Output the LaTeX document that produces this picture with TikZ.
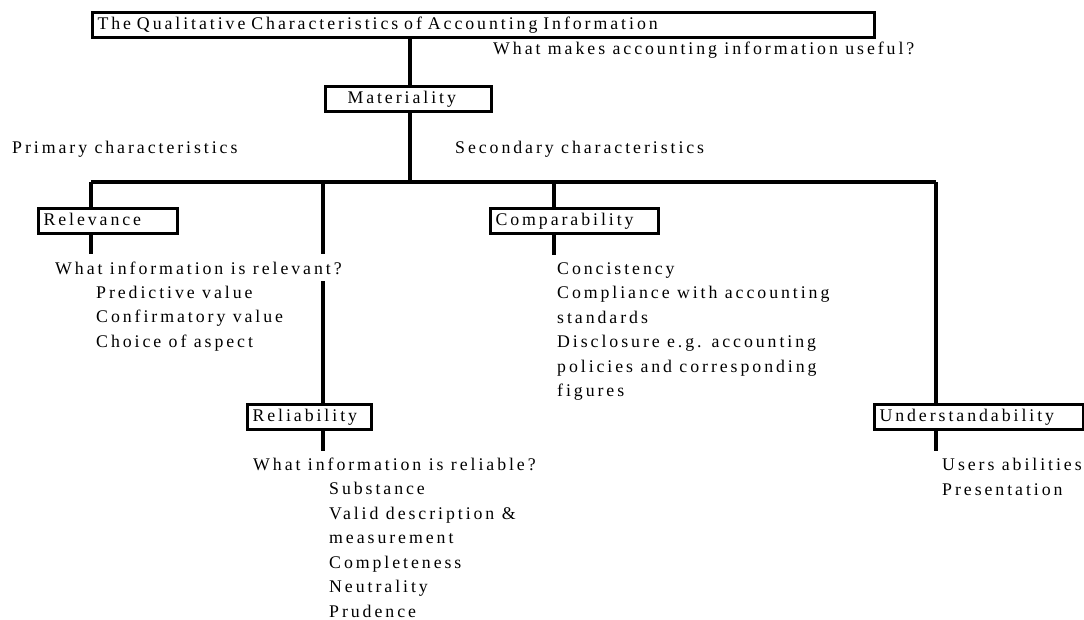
\documentclass[tikz,border=0pt]{standalone}
\usepackage{fontspec}
\setmainfont{Liberation Serif}[LetterSpace=16.5]
\usetikzlibrary{positioning,backgrounds}

\tikzset{
  charbox/.style={draw, line width=3pt, anchor=north west, inner xsep=5pt,
    minimum height=25pt, text height=12.5pt, text depth=3pt, align=left},
  txt/.style={anchor=base west, inner sep=0pt, align=left},
  link/.style={line width=3.2pt}
}

\begin{document}
\begin{tikzpicture}[x=1pt,y=-1pt,
  every node/.style={font=\fontsize{17.8}{24.5}\selectfont}]
\useasboundingbox (0,0) rectangle (1084,619);

% boxes
\node[charbox, text width=772pt] (title) at (91,11) {The Qualitative Characteristics of Accounting Information};
\node[charbox, inner xsep=22pt, text width=122pt] (mat) at (324,85) {Materiality};
\node[charbox, text width=129pt] (rel) at (37,207) {Relevance};
\node[charbox, text width=158pt] (comp) at (489,207) {Comparability};
\node[charbox, text width=114pt] (reli) at (246,403) {Reliability};
\node[charbox, text width=199pt] (und) at (873,403) {Understandability};

% texts (multi-line nodes sit on their last baseline)
\node[txt] (useful) at (493,54) {What makes accounting information useful?};
\node[txt] (prim) at (12,153) {Primary characteristics};
\node[txt] (sec) at (455,153) {Secondary characteristics};
\node[txt, fill=white, inner ysep=7pt, text depth=0pt] (relq) at (55,274) {What information is relevant?};
\node[txt] (relitems) at (96,347) {Predictive value\\Confirmatory value\\Choice of aspect};
\node[txt] (compitems) at (557,396.5) {Concistency\\Compliance with accounting\\standards\\Disclosure e.g. accounting\\policies and corresponding\\figures};
\node[txt] (reliq) at (253,470) {What information is reliable?};
\node[txt] (reliitems) at (329,617) {Substance\\Valid description \&\\measurement\\Completeness\\Neutrality\\Prudence};
\node[txt] (unditems) at (942,495) {Users abilities\\Presentation};

% joints on the bar
\coordinate (hub) at (410,182);
\coordinate (jrel) at (91,182);
\coordinate (jreli) at (323,182);
\coordinate (jcomp) at (554,182);
\coordinate (jund) at (936,182);
\coordinate (erel) at (91,255);
\coordinate (ecomp) at (554,255);
\coordinate (ereli) at (323,451);
\coordinate (eund) at (936,451);

\begin{pgfonlayer}{background}
\draw[link] (title.south -| hub) -- (mat.north -| hub);
\draw[link] (mat.south -| hub) -- (hub);
\draw[link] (jrel) -- (jund);
\draw[link] (jrel) -- (rel.north -| jrel);
\draw[link] (jreli) -- (reli.north -| jreli);
\draw[link] (jcomp) -- (comp.north -| jcomp);
\draw[link] (jund) -- (und.north -| jund);
\draw[link] (rel.south -| erel) -- (erel);
\draw[link] (comp.south -| ecomp) -- (ecomp);
\draw[link] (reli.south -| ereli) -- (ereli);
\draw[link] (und.south -| eund) -- (eund);
\end{pgfonlayer}
\end{tikzpicture}
\end{document}
